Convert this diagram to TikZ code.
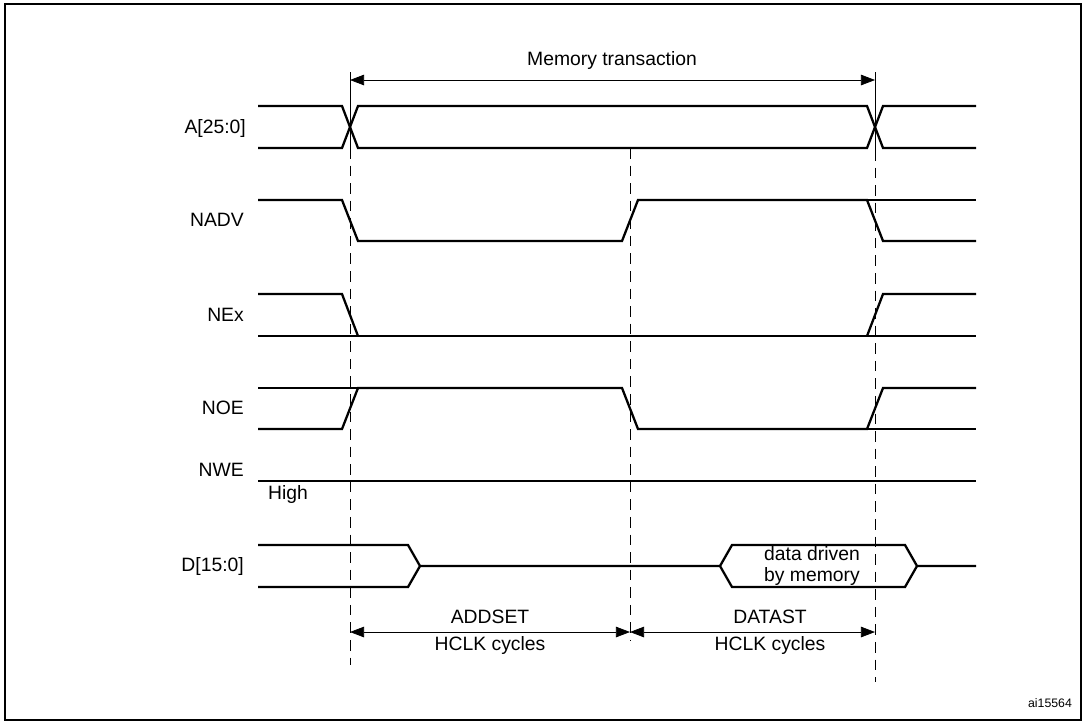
\documentclass[tikz,border=0pt]{standalone}
\usepackage{fontspec}
\setmainfont{Liberation Sans}
\usetikzlibrary{arrows.meta}
\tikzset{
  wave/.style={line width=1.3pt},
  guide/.style={thin, dash pattern=on 6pt off 4pt},
  span/.style={thin, {Triangle[length=8pt,width=6pt]}-{Triangle[length=8pt,width=6pt]}},
  sig/.style={anchor=east, font=\fontsize{11}{13}\selectfont},
  lbl/.style={font=\fontsize{11}{12}\selectfont, align=center}
}
\begin{document}
\begin{tikzpicture}[x=0.02cm, y=-0.02cm]
  \useasboundingbox (0,0) rectangle (1087,725);
  % frame
  \draw[line width=1pt] (5,4) rectangle (1081,720);

  % time markers
  \coordinate (t0top) at (350,72);  \coordinate (t0) at (350,148);  \coordinate (t0bot) at (350,665);
  \coordinate (t1) at (630,148);    \coordinate (t1bot) at (630,640);
  \coordinate (t2top) at (875,72);  \coordinate (t2) at (875,150);  \coordinate (t2bot) at (875,682);
  \draw[thin] (t0top) -- (t0);
  \draw[thin] (t2top) -- (t2);
  \draw[guide] (t0) -- (t0bot);
  \draw[guide] (t1) -- (t1bot);
  \draw[guide] (t2) -- (t2bot);

  % Memory transaction
  \coordinate (mtL) at (350,80); \coordinate (mtR) at (875,80);
  \draw[span] (mtL) -- (mtR);
  \node[lbl] (mt) at (612,60) {Memory transaction};

  % signal names
  \node[sig] (sA) at (252,128) {A[25:0]};
  \node[sig] (sNADV) at (250,220) {NADV};
  \node[sig] (sNEx) at (250,315) {NEx};
  \node[sig] (sNOE) at (250,408) {NOE};
  \node[sig] (sNWE) at (250,470) {NWE};
  \node[lbl, anchor=west] (high) at (262,494) {High};
  \node[sig] (sD) at (250,566) {D[15:0]};

  % A[25:0]
  \draw[wave] (258,106) -- (342,106) -- (358,148) -- (867,148) -- (883,106) -- (976,106);
  \draw[wave] (258,148) -- (342,148) -- (358,106) -- (867,106) -- (883,148) -- (976,148);

  % NADV
  \draw[wave] (258,200) -- (342,200) -- (358,241) -- (622,241) -- (638,200) -- (867,200) -- (883,241) -- (976,241);
  \draw[wave] (867,200) -- (976,200);

  % NEx
  \draw[wave] (258,294) -- (342,294) -- (358,336);
  \draw[wave] (258,336) -- (976,336);
  \draw[wave] (867,336) -- (883,294) -- (976,294);

  % NOE
  \draw[wave] (258,429) -- (342,429) -- (358,388) -- (622,388) -- (638,429) -- (867,429) -- (883,388) -- (976,388);
  \draw[wave] (258,388) -- (358,388);
  \draw[wave] (867,429) -- (976,429);

  % NWE
  \draw[wave] (258,481) -- (976,481);

  % D[15:0]
  \draw[wave] (258,545) -- (408,545) -- (420,566) -- (720,566) -- (732,545) -- (905,545) -- (917,566) -- (976,566);
  \draw[wave] (258,587) -- (408,587) -- (420,566);
  \draw[wave] (720,566) -- (732,587) -- (905,587) -- (917,566);
  \node[lbl] (dd) at (812,566) {data driven\\by memory};

  % cycle spans
  \coordinate (aL) at (350,632); \coordinate (aR) at (630,632); \coordinate (dR) at (875,632);
  \draw[span] (aL) -- (aR);
  \draw[span] (aR) -- (dR);
  \node[lbl] (addset) at (490,617) {ADDSET};
  \node[lbl] (hclkA) at (490,645) {HCLK cycles};
  \node[lbl] (datast) at (770,617) {DATAST};
  \node[lbl] (hclkD) at (770,645) {HCLK cycles};

  \node[font=\fontsize{7}{8}\selectfont] (ref) at (1050,703) {ai15564};
\end{tikzpicture}
\end{document}
